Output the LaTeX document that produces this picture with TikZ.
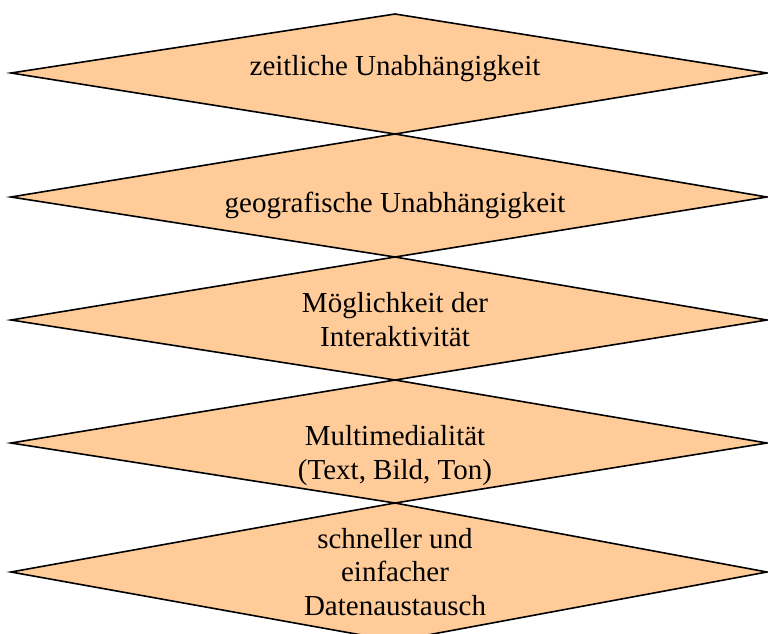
\documentclass[tikz,border=0pt]{standalone}
\usepackage{fontspec}
\setmainfont{Liberation Serif}
\definecolor{peach}{HTML}{FFCC99}
\begin{document}
\begin{tikzpicture}[x=1pt,y=-1pt,
  dia/.style={fill=peach,draw=black,line width=1.6pt,line join=miter},
  lbl/.style={anchor=base,align=center,inner sep=0pt,font=\fontsize{29}{33.5}\selectfont}]
\useasboundingbox (0,0) rectangle (768,633);
\begin{scope}
\clip (0,0) rectangle (768,633);
\draw[dia] (11,73) -- (395,14) -- (767,73) -- (395,134) -- cycle;
\draw[dia] (11,197) -- (395,134) -- (767,197) -- (395,257) -- cycle;
\draw[dia] (11,320) -- (395,257) -- (767,320) -- (395,380) -- cycle;
\draw[dia] (11,443) -- (395,380) -- (767,443) -- (395,503) -- cycle;
\draw[dia] (11,572) -- (395,503) -- (767,572) -- (395,641) -- cycle;
\end{scope}
\node[lbl] (t1) at (395,75) {zeitliche Unabhängigkeit};
\node[lbl] (t2) at (395,212) {geografische Unabhängigkeit};
\node[lbl] (t3) at (395,346) {Möglichkeit der\\Interaktivität};
\node[lbl] (t4) at (395,479) {Multimedialität\\(Text, Bild, Ton)};
\node[lbl] (t5) at (395,615) {schneller und\\einfacher\\Datenaustausch};
\end{tikzpicture}
\end{document}
